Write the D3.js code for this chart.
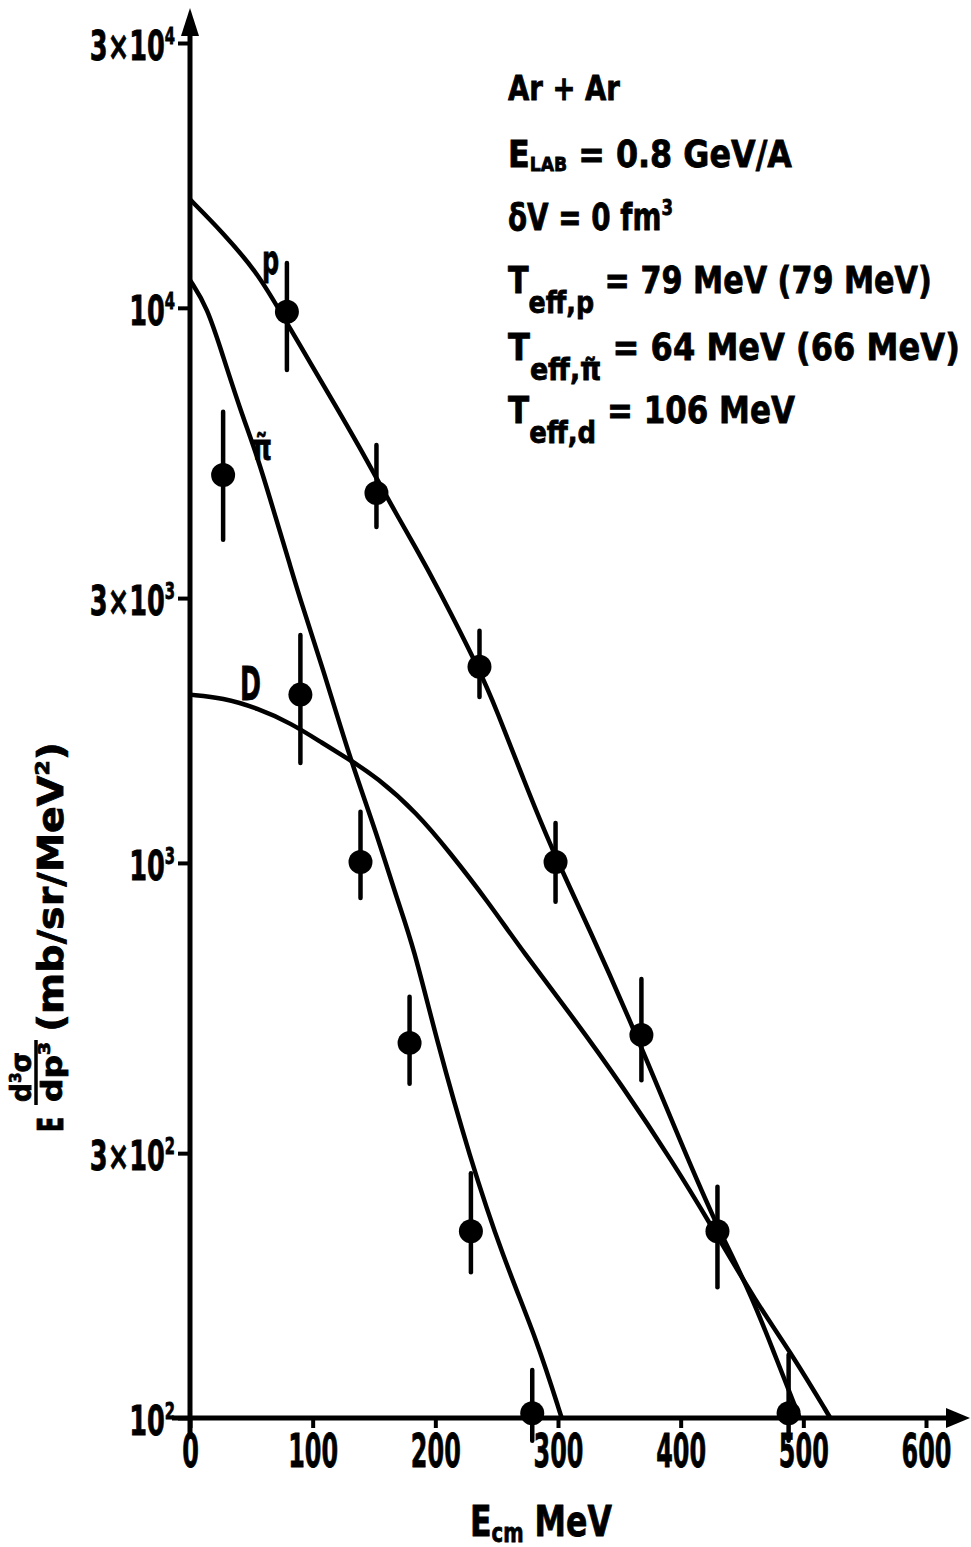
<!DOCTYPE html>
<html><head><meta charset="utf-8">
<script src="https://cdn.jsdelivr.net/npm/d3@7"></script>
<style>body{margin:0;background:#fff}</style>
</head><body><svg id="c" width="971" height="1547" xmlns="http://www.w3.org/2000/svg"></svg>
<script>
// ---- axis ticks ----
const xTicks = [0, 100, 200, 300, 400, 500, 600];
const yTicks = [100, 300, 1000, 3000, 10000, 30000];
const yTickLabels = [["10","2"],["3×10","2"],["10","3"],["3×10","3"],["10","4"],["3×10","4"]];

// ---- measured points (E_cm MeV, cross section) ----
const protonE  = [79, 152, 236, 298, 368, 430, 488];
const protonV  = [9840, 4640, 2256, 1004, 490, 217, 102];
const protonLo = [7730, 4030, 1990, 851, 406, 172, 91];
const protonHi = [12050, 5660, 2620, 1180, 618, 261, 130];

const pionE  = [27, 90, 139, 179, 229, 279];
const pionV  = [5000, 2010, 1004, 474, 217, 102];
const pionLo = [3820, 1514, 865, 400, 183, 91];
const pionHi = [6500, 2575, 1236, 574, 276, 122];

// ---- calculated curves ----
const pCurveE = [0, 27, 55, 73, 100, 122, 144, 163, 185, 201, 236, 250, 272, 294, 326, 361, 397, 426, 457, 475, 497];
const pCurveV = [15680, 13650, 11560, 9890, 7830, 6470, 5325, 4455, 3665, 3162, 2230, 1884, 1413, 1069, 757, 507, 326, 230, 168, 133, 100];

const piCurveE = [0, 14, 27, 41, 55, 68, 82, 90, 108, 130, 152, 169, 182, 201, 228, 255, 283, 303];
const piCurveV = [11220, 10040, 8170, 6550, 5395, 4325, 3413, 2977, 2254, 1552, 1132, 857, 710, 480, 295, 195, 138, 100];

const dCurveE = [0, 27, 55, 82, 108, 130, 152, 185, 212, 242, 272, 312, 353, 394, 424, 462, 492, 522];
const dCurveV = [2010, 1983, 1900, 1787, 1644, 1535, 1428, 1231, 1043, 857, 689, 528, 395, 288, 224, 161, 129, 100];

// ---- drawing ----
const svg = d3.select('#c');
const FONT = "'DejaVu Sans', sans-serif";
const x = d3.scaleLinear().domain([0, 600]).range([190, 926]);
const y = d3.scaleLog().domain([100, 30000]).range([1418, 43]);

// horizontally condense a text (stencil-like narrow lettering)
function condense(sel, k) {
  sel.each(function () {
    const t = d3.select(this);
    const xx = +(t.attr('x') || 0);
    t.attr('x', xx / k).attr('transform', `scale(${k},1)`);
  });
}
function fitW(sel, w) {
  sel.each(function () { condense(d3.select(this), w / this.getComputedTextLength()); });
}
function txt(parent, xx, yy, size) {
  return parent.append('text').attr('x', xx).attr('y', yy)
    .attr('font-family', FONT).attr('font-weight', 'bold').attr('font-size', size)
    .attr('fill', '#000').attr('stroke', '#000').attr('stroke-width', 0.8);
}

// X axis
const gx = svg.append('g').attr('transform', 'translate(0,1418)')
  .call(d3.axisBottom(x).tickValues(xTicks).tickSize(10).tickPadding(6).tickFormat(d3.format('d')));
gx.select('.domain').remove();
gx.selectAll('.tick line').attr('stroke', '#000').attr('stroke-width', 4);
gx.selectAll('.tick text').attr('font-family', FONT).attr('font-weight', 'bold')
  .attr('font-size', 46).attr('fill', '#000').attr('stroke', '#000').attr('stroke-width', 0.8);
condense(gx.selectAll('.tick text'), 0.52);

// Y axis
const gy = svg.append('g').attr('transform', 'translate(190,0)')
  .call(d3.axisLeft(y).tickValues(yTicks).tickSize(12).tickPadding(3).tickFormat(() => ''));
gy.select('.domain').remove();
gy.selectAll('.tick line').attr('stroke', '#000').attr('stroke-width', 4);
gy.selectAll('.tick text').each(function (d) {
  const t = d3.select(this);
  const lab = yTickLabels[yTicks.indexOf(d)];
  t.text(null).attr('font-family', FONT).attr('font-weight', 'bold').attr('font-size', 40)
    .attr('fill', '#000').attr('stroke', '#000').attr('stroke-width', 0.8).attr('dy', '0.42em');
  t.append('tspan').text(lab[0]);
  t.append('tspan').attr('font-size', 23).attr('dy', '-0.72em').text(lab[1]);
});
condense(gy.selectAll('.tick text'), 0.64);

// axis lines with arrows
svg.append('line').attr('x1', 172).attr('x2', 950).attr('y1', 1418).attr('y2', 1418)
  .attr('stroke', '#000').attr('stroke-width', 5);
svg.append('path').attr('d', 'M946,1408 L970,1418 L946,1428 Z').attr('fill', '#000');
svg.append('line').attr('x1', 190).attr('x2', 190).attr('y1', 1436).attr('y2', 30)
  .attr('stroke', '#000').attr('stroke-width', 5);
svg.append('path').attr('d', 'M181,36 L190,8 L199,36 Z').attr('fill', '#000');

// curves
const line = d3.line().x(d => x(d[0])).y(d => y(d[1])).curve(d3.curveBasis);
[[pCurveE, pCurveV], [piCurveE, piCurveV], [dCurveE, dCurveV]].forEach(([E, V]) => {
  svg.append('path').attr('d', line(E.map((e, i) => [e, V[i]])))
    .attr('fill', 'none').attr('stroke', '#000').attr('stroke-width', 4.5)
    .attr('stroke-linejoin', 'round');
});

// points with error bars
const pts = protonE.map((e, i) => ({ e, v: protonV[i], lo: protonLo[i], hi: protonHi[i] }))
  .concat(pionE.map((e, i) => ({ e, v: pionV[i], lo: pionLo[i], hi: pionHi[i] })));
svg.append('g').selectAll('line').data(pts).join('line')
  .attr('x1', d => x(d.e)).attr('x2', d => x(d.e)).attr('y1', d => y(d.lo)).attr('y2', d => y(d.hi))
  .attr('stroke', '#000').attr('stroke-width', 4.5).attr('stroke-linecap', 'round');
svg.append('g').selectAll('circle').data(pts).join('circle')
  .attr('cx', d => x(d.e)).attr('cy', d => y(d.v)).attr('r', 12).attr('fill', '#000');

// curve labels
condense(txt(svg, 262, 274, 40).text('p'), 0.6);
condense(txt(svg, 252, 460, 36).text('π\u0303'), 0.7);
condense(txt(svg, 240, 700, 46).text('D'), 0.55);

// x axis title
const xt = txt(svg, 470, 1536, 42);
xt.append('tspan').text('E');
xt.append('tspan').attr('font-size', 26).attr('dy', 6).text('cm');
xt.append('tspan').attr('dy', -6).text(' MeV');
fitW(xt, 142);

// y axis title (rotated)
const gt = svg.append('g').attr('transform', 'translate(48,1132) rotate(-90)');
condense(txt(gt, 0, 15, 36).text('E'), 0.62);
const num = txt(gt, 30, -17, 28);
num.append('tspan').text('d');
num.append('tspan').attr('font-size', 16).attr('dy', -10).text('3');
num.append('tspan').attr('dy', 10).text('σ');
fitW(num, 50);
gt.append('line').attr('x1', 27).attr('x2', 92).attr('y1', -12).attr('y2', -12)
  .attr('stroke', '#000').attr('stroke-width', 3.5);
const den = txt(gt, 30, 14, 28);
den.append('tspan').text('dp');
den.append('tspan').attr('font-size', 16).attr('dy', -12).text('3');
fitW(den, 60);
const unit = txt(gt, 100, 15, 36);
unit.append('tspan').text('(mb/sr/MeV');
unit.append('tspan').attr('font-size', 20).attr('dy', -14).text('2');
unit.append('tspan').attr('dy', 14).text(')');
fitW(unit, 290);

// annotation block
const X0 = 508;
fitW(txt(svg, X0, 100, 34).text('Ar + Ar'), 112);

const l2 = txt(svg, X0, 167, 37);
l2.append('tspan').text('E');
l2.append('tspan').attr('font-size', 20).attr('dy', 4).text('LAB');
l2.append('tspan').attr('dy', -4).text(' = 0.8 GeV/A');
fitW(l2, 284);

const l3 = txt(svg, X0, 230, 37);
l3.append('tspan').text('δV = 0 fm');
l3.append('tspan').attr('font-size', 22).attr('dy', -15).text('3');
fitW(l3, 165);

function teff(yy, sub, rest, w) {
  const t = txt(svg, X0, yy, 37);
  t.append('tspan').text('T');
  t.append('tspan').attr('font-size', 31).attr('dy', 20).text(sub);
  t.append('tspan').attr('dy', -20).text(rest);
  fitW(t, w);
}
teff(293, 'eff,p', ' = 79 MeV (79 MeV)', 424);
teff(360, 'eff,π\u0303', ' = 64 MeV (66 MeV)', 452);
teff(423, 'eff,d', ' = 106 MeV', 287);
</script>
</body></html>
